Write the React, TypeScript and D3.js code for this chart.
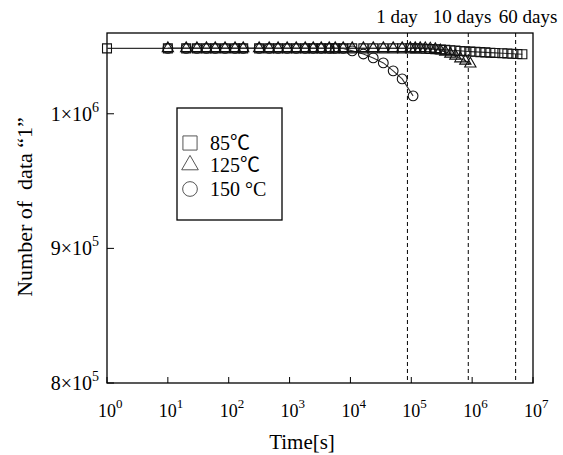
import React, { useEffect, useRef } from "react";
import * as d3 from "d3";

// time [s] and number of "1" data
const time85 = [
  1, 10, 20, 30, 43, 60, 87, 127, 173, 316, 462, 647, 912, 1285, 1806, 2446,
  3311, 4480, 5620, 7600, 10700, 16300, 23700, 34700, 50400, 70800, 96300,
  116000, 140000, 170000, 205000, 248000, 300000, 362000, 438000, 530000,
  640000, 773000, 934000, 1130000, 1365000, 1650000, 1995000, 2400000,
  3140000, 3790000, 4580000, 5540000, 6690000,
];
const value85 = [
  1048576, 1048576, 1048576, 1048576, 1048576, 1048576, 1048576, 1048576,
  1048576, 1048576, 1048576, 1048576, 1048576, 1048576, 1048576, 1048576,
  1048576, 1048576, 1048576, 1048576, 1048576, 1048576, 1048576, 1048576,
  1048576, 1048576, 1048576, 1048576, 1048500, 1048300, 1048100, 1047900,
  1047700, 1047500, 1047200, 1047000, 1046700, 1046400, 1046200, 1046000,
  1045800, 1045600, 1045400, 1045200, 1045000, 1044800, 1044600, 1044400,
  1044200,
];

const time125 = [
  10, 20, 30, 43, 60, 87, 127, 173, 316, 462, 647, 912, 1285, 1806, 2446,
  3311, 4480, 5620, 7600, 10700, 16300, 23700, 34700, 50400, 70800, 96300,
  116000, 140000, 170000, 205000, 248000, 300000, 362000, 438000, 530000,
  640000, 773000, 934000,
];
const value125 = [
  1048576, 1048576, 1048576, 1048576, 1048576, 1048576, 1048576, 1048576,
  1048576, 1048576, 1048576, 1048576, 1048576, 1048576, 1048576, 1048576,
  1048576, 1048576, 1048576, 1048576, 1048576, 1048576, 1048576, 1048576,
  1048576, 1048576, 1048576, 1048576, 1048500, 1048300, 1047900, 1047000,
  1046000, 1044500, 1043000, 1041000, 1039300, 1037200,
];

const time150 = [
  10, 20, 30, 43, 60, 87, 127, 173, 316, 462, 647, 912, 1285, 1806, 2446,
  3311, 4480, 5620, 7600, 10700, 16300, 23700, 34700, 50400, 70800, 107000,
];
const value150 = [
  1048576, 1048576, 1048576, 1048576, 1048576, 1048576, 1048576, 1048576,
  1048576, 1048576, 1048576, 1048576, 1048576, 1048576, 1048576, 1048576,
  1048576, 1048576, 1048576, 1046700, 1044400, 1041500, 1037800, 1031900,
  1025900, 1013300,
];

const xTickExp = [0, 1, 2, 3, 4, 5, 6, 7];
const yTicks = [800000, 900000, 1000000];
const yTickLabels = [
  ["8×10", "5"],
  ["9×10", "5"],
  ["1×10", "6"],
];

const markLines = [86400, 864000, 5184000];
const markLabels = ["1 day", "10 days", "60 days"];
const markLabelX = [397, 462, 528];

const legendLabels = ["85℃", "125℃", "150 °C"];

const App = () => {
  const chartRef = useRef<SVGSVGElement>(null);

  useEffect(() => {
    document.body.style.margin = "0";
    const width = 563;
    const height = 455;
    const margin = { top: 33, right: 30, bottom: 72, left: 107 };
    const font = "'Liberation Serif', 'Noto Sans CJK JP', serif";

    const svg = d3.select(chartRef.current);
    svg.selectAll("*").remove();
    svg.attr("width", width).attr("height", height).style("font-family", font);

    const x = d3
      .scaleLog()
      .domain([1, 1e7])
      .range([margin.left, width - margin.right]);
    const y = d3
      .scaleLinear()
      .domain([800000, 1060000])
      .range([height - margin.bottom, margin.top]);

    const x0 = margin.left;
    const x1 = width - margin.right;
    const y0 = height - margin.bottom;
    const y1 = margin.top;

    // frame
    svg
      .append("rect")
      .attr("x", x0)
      .attr("y", y1)
      .attr("width", x1 - x0)
      .attr("height", y0 - y1)
      .attr("fill", "none")
      .attr("stroke", "#000")
      .attr("stroke-width", 1.3);

    // x ticks
    const xt = svg.append("g");
    xTickExp.forEach((e) => {
      const px = x(Math.pow(10, e));
      xt.append("line")
        .attr("x1", px)
        .attr("x2", px)
        .attr("y1", y0)
        .attr("y2", y0 - 6)
        .attr("stroke", "#000");
      const t = xt
        .append("text")
        .attr("x", px - 9)
        .attr("y", y0 + 34)
        .attr("font-size", 18);
      t.append("tspan").text("10");
      t.append("tspan").attr("dy", -9).attr("font-size", 13).text(String(e));
    });

    // y ticks
    const yt = svg.append("g");
    yTicks.forEach((v, i) => {
      const py = y(v);
      yt.append("line")
        .attr("x1", x0)
        .attr("x2", x0 + 7)
        .attr("y1", py)
        .attr("y2", py)
        .attr("stroke", "#000");
      const t = yt
        .append("text")
        .attr("x", 99)
        .attr("y", py + 7)
        .attr("text-anchor", "end")
        .attr("font-size", 20);
      t.append("tspan").text(yTickLabels[i][0]);
      t.append("tspan").attr("dy", -9).attr("font-size", 14).text(yTickLabels[i][1]);
    });

    // axis titles
    svg
      .append("text")
      .attr("x", 302)
      .attr("y", 449)
      .attr("text-anchor", "middle")
      .attr("font-size", 21)
      .text("Time[s]");
    svg
      .append("text")
      .attr("transform", `translate(32,207) rotate(-90)`)
      .attr("text-anchor", "middle")
      .attr("font-size", 22)
      .style("white-space", "pre")
      .text("Number of  data “1”");

    // dashed day markers
    markLines.forEach((t, i) => {
      svg
        .append("line")
        .attr("x1", x(t))
        .attr("x2", x(t))
        .attr("y1", y1)
        .attr("y2", y0)
        .attr("stroke", "#000")
        .attr("stroke-dasharray", "4,3");
      svg
        .append("text")
        .attr("x", markLabelX[i])
        .attr("y", 23)
        .attr("text-anchor", "middle")
        .attr("font-size", 19)
        .text(markLabels[i]);
    });

    const series = [
      { t: time85, v: value85, shape: "square" },
      { t: time125, v: value125, shape: "triangle" },
      { t: time150, v: value150, shape: "circle" },
    ];

    const line = d3
      .line<[number, number]>()
      .x((d) => x(d[0]))
      .y((d) => y(d[1]));

    series.forEach((s) => {
      const pts = s.t.map((t, i) => [t, s.v[i]] as [number, number]);
      svg
        .append("path")
        .attr("d", line(pts))
        .attr("fill", "none")
        .attr("stroke", "#333")
        .attr("stroke-width", 1.1);
    });

    const symbolType = {
      square: d3.symbolSquare,
      triangle: d3.symbolTriangle,
      circle: d3.symbolCircle,
    };
    const symbolSize = { square: 80, triangle: 55, circle: 75 };

    series.forEach((s) => {
      const pts = s.t.map((t, i) => [t, s.v[i]] as [number, number]);
      const sym = d3.symbol().type(symbolType[s.shape]).size(symbolSize[s.shape]);
      svg
        .append("g")
        .selectAll("path")
        .data(pts)
        .enter()
        .append("path")
        .attr("d", sym)
        .attr("transform", (d) => `translate(${x(d[0])},${y(d[1])})`)
        .attr("fill", "none")
        .attr("stroke", "#111")
        .attr("stroke-width", 1.1);
    });

    // legend
    const lg = svg.append("g");
    lg.append("rect")
      .attr("x", 177)
      .attr("y", 108)
      .attr("width", 105)
      .attr("height", 112)
      .attr("fill", "#fff")
      .attr("stroke", "#000")
      .attr("stroke-width", 1.3);
    const shapes = ["square", "triangle", "circle"];
    const legendY = [143, 165, 189];
    const legendSize = { square: 200, triangle: 120, circle: 170 };
    shapes.forEach((sh, i) => {
      lg.append("path")
        .attr("d", d3.symbol().type(symbolType[sh]).size(legendSize[sh])())
        .attr("transform", `translate(190,${legendY[i]})`)
        .attr("fill", "none")
        .attr("stroke", "#555")
        .attr("stroke-width", 1);
      lg.append("text")
        .attr("x", 210)
        .attr("y", legendY[i] + 7)
        .attr("font-size", 20)
        .text(legendLabels[i]);
    });
  }, []);

  return <svg ref={chartRef}></svg>;
};

export default App;
